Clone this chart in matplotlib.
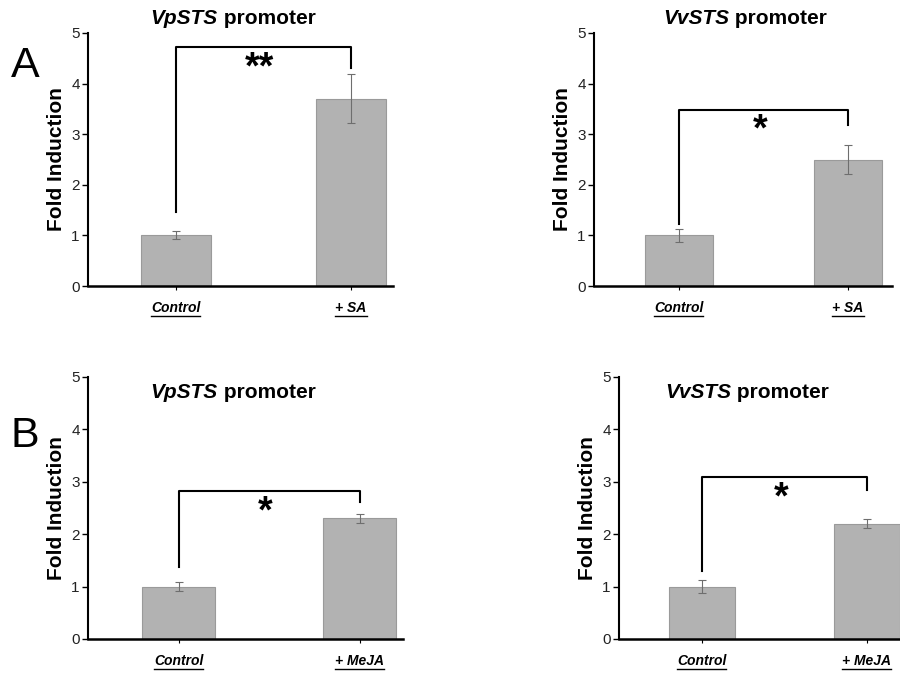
import matplotlib
matplotlib.use("Agg")
import matplotlib.pyplot as plt
from matplotlib.lines import Line2D

plt.rcParams['font.family'] = ['Liberation Sans', 'DejaVu Sans']

# data
groups_sa = ['Control', '+ SA']
groups_meja = ['Control', '+ MeJA']
vp_sa = [1.0, 3.7]
vp_sa_err = [0.08, 0.48]
vv_sa = [1.0, 2.5]
vv_sa_err = [0.13, 0.28]
vp_meja = [1.0, 2.3]
vp_meja_err = [0.08, 0.08]
vv_meja = [1.0, 2.2]
vv_meja_err = [0.13, 0.09]

# bracket: top, left leg end, right leg end, stars
brk_vp_sa = (4.72, 1.46, 4.3, '**')
brk_vv_sa = (3.48, 1.22, 3.18, '*')
brk_vp_meja = (2.82, 1.37, 2.61, '*')
brk_vv_meja = (3.09, 1.30, 2.84, '*')

W, H = 900, 673
fig = plt.figure(figsize=(9, 6.73), dpi=100)


def px_axes(x0, x1, ytop, ybot):
    return fig.add_axes([x0 / W, (H - ybot) / H, (x1 - x0) / W, (ybot - ytop) / H])


def panel(ax, vals, errs, labels, brk, xright):
    xs = [0, 1]
    ax.bar(xs, vals, width=0.4, color='#b2b2b2', edgecolor='#9a9a9a', linewidth=0.8, zorder=2)
    ax.errorbar(xs, vals, yerr=errs, fmt='none', ecolor='#6e6e6e', elinewidth=0.8,
                capsize=3, capthick=0.8, zorder=3)
    top, l, r, stars = brk
    ax.plot([0, 0, 1, 1], [l, top, top, r], color='black', lw=1.5, zorder=4)
    ax.text(0.48, top - 0.06, stars, ha='center', va='top', fontsize=27, fontweight='bold')
    ax.set_xlim(-0.5, xright)
    ax.set_ylim(0, 5)
    ax.set_yticks([0, 1, 2, 3, 4, 5])
    ax.set_xticks(xs)
    ax.set_xticklabels(labels, fontsize=10, fontweight='bold', fontstyle='italic')
    ax.tick_params(axis='y', labelsize=11, labelcolor='#222222', length=4, width=1, pad=2)
    ax.tick_params(axis='x', length=3, width=0.8, pad=8)
    for s in ['top', 'right']:
        ax.spines[s].set_visible(False)
    ax.spines['left'].set_linewidth(1.5)
    ax.spines['bottom'].set_linewidth(1.8)
    ax.set_ylabel('Fold Induction', fontsize=15, fontweight='bold', labelpad=4)


def title(xc, yc, gene):
    r = fig.canvas.get_renderer()
    t1 = fig.text(0, 0, gene, fontsize=15, fontweight='bold', fontstyle='italic')
    t2 = fig.text(0, 0, ' promoter', fontsize=15, fontweight='bold')
    w1 = t1.get_window_extent(r).width
    w2 = t2.get_window_extent(r).width
    x0 = xc - (w1 + w2) / 2
    t1.set_position((x0 / W, 1 - yc / H))
    t2.set_position(((x0 + w1) / W, 1 - yc / H))
    t1.set_va('center')
    t2.set_va('center')


def underline_ticks(ax):
    r = fig.canvas.get_renderer()
    for lab in ax.get_xticklabels():
        bb = lab.get_window_extent(r)
        y = (bb.y0 - 1) / H
        fig.add_artist(Line2D([bb.x0 / W, bb.x1 / W], [y, y], color='black', lw=1))


ax1 = px_axes(88, 393, 33, 286)
panel(ax1, vp_sa, vp_sa_err, groups_sa, brk_vp_sa, 1.24)
ax2 = px_axes(594, 892, 33, 286)
panel(ax2, vv_sa, vv_sa_err, groups_sa, brk_vv_sa, 1.26)
ax3 = px_axes(88, 403, 377, 639)
panel(ax3, vp_meja, vp_meja_err, groups_meja, brk_vp_meja, 1.24)
ax4 = px_axes(619, 900, 377, 639)
panel(ax4, vv_meja, vv_meja_err, groups_meja, brk_vv_meja, 1.2)

fig.canvas.draw()
for ax in [ax1, ax2, ax3, ax4]:
    underline_ticks(ax)

title(233, 18, 'VpSTS')
title(745, 18, 'VvSTS')
title(233, 393, 'VpSTS')
title(747, 393, 'VvSTS')

fig.text(25 / W, 1 - 66 / H, 'A', fontsize=31, ha='center', va='center')
fig.text(25 / W, 1 - 436 / H, 'B', fontsize=31, ha='center', va='center')

fig.savefig('out.png', dpi=100)
